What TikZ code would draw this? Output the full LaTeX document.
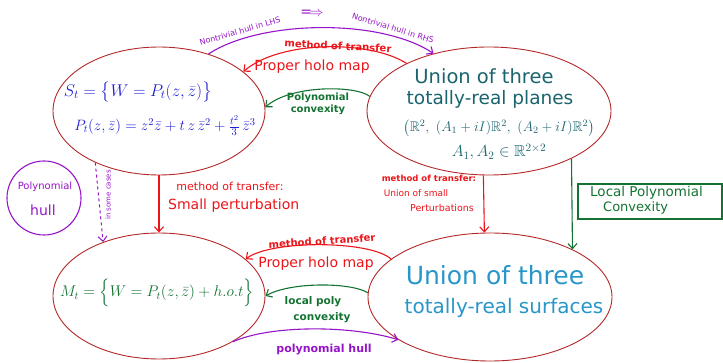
\RequirePackage{fix-cm}
\documentclass[tikz,border=0pt]{standalone}
\usepackage{amsmath,amssymb}
\usepackage{fontspec}
\setmainfont{DejaVu Sans}
\usetikzlibrary{shapes.geometric,arrows.meta}
\definecolor{ered}{RGB}{178,40,40}
\definecolor{hpurple}{RGB}{150,20,200}
\definecolor{hred}{RGB}{235,20,25}
\definecolor{hgreen}{RGB}{20,115,50}
\definecolor{hblue}{RGB}{30,30,210}
\definecolor{hteal}{RGB}{25,100,110}
\definecolor{hcyan}{RGB}{40,150,200}
\tikzset{
  oval/.style={draw=ered, line width=0.9pt, ellipse, inner sep=0pt},
  conn/.style={line width=1.1pt, -{Straight Barb[length=5pt,width=9pt]}},
  fs/.style={font=\fontsize{#1}{#1}\selectfont},
  lab/.style={inner sep=0pt, align=center},
}
\begin{document}
\begin{tikzpicture}[x=1pt,y=-1pt]
\useasboundingbox (0,0) rectangle (723,363);
% ellipses
\node[oval, minimum width=212pt, minimum height=128pt] (S) at (159,111) {};
\node[oval, minimum width=244pt, minimum height=128pt] (R) at (489,111) {};
\node[oval, minimum width=212pt, minimum height=126pt] (M) at (159,296) {};
\node[oval, minimum width=244pt, minimum height=128pt] (B) at (490,297) {};
% side shapes
\node[draw=hpurple, line width=1.1pt, circle, minimum size=74pt, inner sep=0pt] (H) at (44,198) {};
\node[lab, fs=10, text=hpurple] (Ht1) at (45,187) {Polynomial};
\node[lab, fs=14, text=hpurple] (Ht2) at (43,210) {hull};
\node[draw=hgreen, line width=1.1pt, minimum width=144pt, minimum height=35pt, inner sep=0pt] (L) at (650,201.5) {};
\node[lab, fs=13.5, text=hgreen, anchor=west] (Lt1) at (590,193) {Local Polynomial};
\node[lab, fs=13, text=hgreen, anchor=west] (Lt2) at (603,208) {Convexity};
% ellipse contents
\node[lab, fs=17, text=hblue] (S1) at (138,92) {$S_t=\bigl\{W=P_t(z,\bar z)\bigr\}$};
\node[lab, fs=15, text=hblue] (S2) at (165,126) {$P_t(z,\bar z)=z^2\bar z+t\,z\,\bar z^2+\frac{t^2}{3}\,\bar z^3$};
\node[lab, fs=19.5, text=hteal] (R1) at (484,76) {Union of three};
\node[lab, fs=18.5, text=hteal] (R2) at (490,99) {totally-real planes};
\node[lab, fs=14, text=hteal] (R3) at (499,128) {$\bigl(\mathbb{R}^2,\ (A_1+iI)\mathbb{R}^2,\ (A_2+iI)\mathbb{R}^2\bigr)$};
\node[lab, fs=16, text=hteal] (R4) at (499,152) {$A_1, A_2\in\mathbb{R}^{2\times 2}$};
\node[lab, fs=15.5, text=hgreen] (M1) at (157,293) {$M_t=\Bigl\{W=P_t(z,\bar z)+h.o.t\Bigr\}$};
\node[lab, fs=25, text=hcyan] (B1) at (495,275) {Union of three};
\node[lab, fs=20, text=hcyan] (B2) at (504,308) {totally-real surfaces};
% top connectors
\draw[conn, hpurple] (S.49) .. controls (260,20) and (380,18) .. (R.134);
\node[lab, fs=8, text=hpurple, rotate=16] (p1) at (240,31) {Nontrivial hull in LHS};
\node[lab, fs=14, text=hpurple] (p2) at (312,13) {$\Longrightarrow$};
\node[lab, fs=8, text=hpurple, rotate=-17] (p3) at (393,28) {Nontrivial hull in RHS};
\draw[conn, hred] (R.150) .. controls (370,40) and (280,40) .. (S.25);
\node[lab, fs=10, text=hred, rotate=-3] (t1) at (338,46) {\bfseries method of transfer};
\node[lab, fs=14, text=hred] (t2) at (312,67) {Proper holo map};
\draw[conn, hgreen] (R.173) .. controls (355,85) and (290,85) .. (S.2);
\node[lab, fs=10, text=hgreen] (g1) at (318,104) {\bfseries Polynomial\\[2pt]\bfseries convexity};
% verticals
\draw[conn, hred] (S.south) -- (M.north);
\node[lab, fs=11, text=hred] (v1) at (230,186) {method of transfer:};
\node[lab, fs=14, text=hred, anchor=west] (v2) at (168,206) {Small perturbation};
\draw[conn, hpurple, dashed, line width=1pt] (S.219) -- (M.136);
\node[lab, fs=7, text=hpurple, rotate=90] (v3) at (108,195) {in some cases};
\draw[conn, hred] (R.265) -- (B.95);
\node[lab, fs=8.5, text=hred] (w1) at (429,178) {\bfseries method of transfer:};
\node[lab, fs=9, text=hred] (w2) at (416,193) {Union of small};
\node[lab, fs=9.5, text=hred] (w3) at (442,208) {Perturbations};
\draw[conn, hgreen] (R.-30) -- (B.30);
% bottom connectors
\draw[conn, hred] (B.159) .. controls (370,240) and (270,240) .. (M.23);
\node[lab, fs=10, text=hred, rotate=4] (b1) at (322,241) {\bfseries method of transfer};
\node[lab, fs=14, text=hred] (b2) at (316,264) {Proper holo map};
\draw[conn, hgreen] (B.178) .. controls (350,282) and (290,282) .. (M.0);
\node[lab, fs=10.5, text=hgreen] (b3) at (313,302) {\bfseries local poly};
\node[lab, fs=10.5, text=hgreen] (b4) at (322,318) {\bfseries convexity};
\draw[conn, hpurple] (M.-32) .. controls (270,325) and (350,325) .. (B.205);
\node[lab, fs=11, text=hpurple] (b5) at (324,350) {\bfseries polynomial hull};
\end{tikzpicture}
\end{document}
